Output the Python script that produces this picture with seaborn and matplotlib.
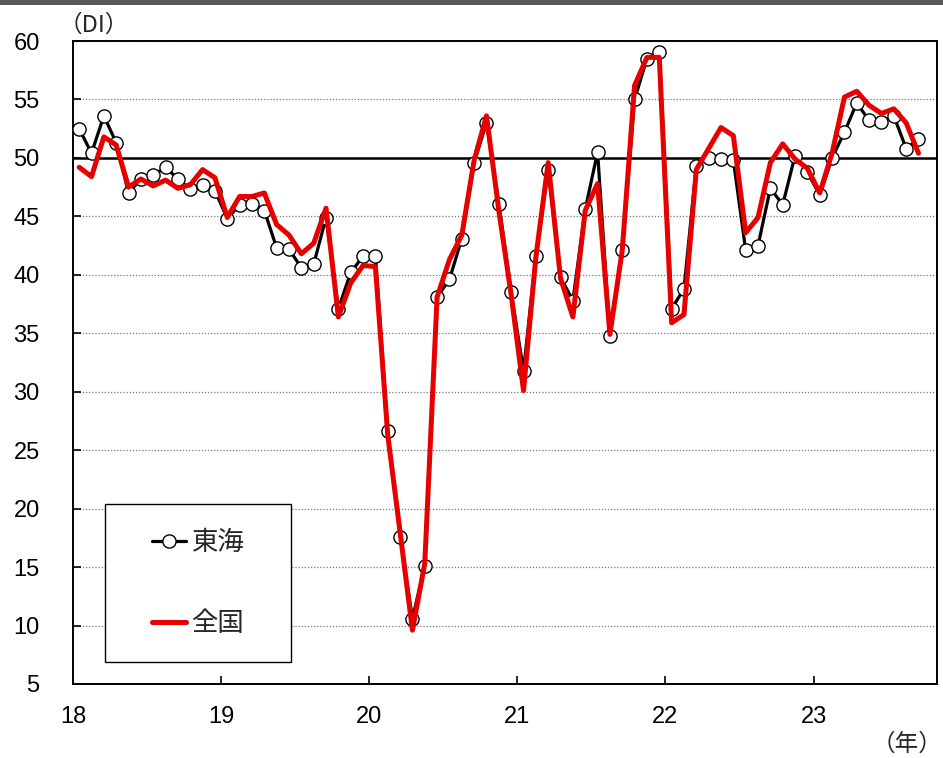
import matplotlib
matplotlib.use("Agg")
import matplotlib.pyplot as plt
from matplotlib.lines import Line2D
from matplotlib.patches import Rectangle
import numpy as np
import pandas as pd
import seaborn as sns

# Monthly business-conditions DI, Jan 2018 - Sep 2023
tokai = [52.5, 50.4, 53.6, 51.3, 47.0, 48.2, 48.5, 49.2, 48.2, 47.3, 47.7, 47.2,
         44.8, 46.0, 46.1, 45.5, 42.3, 42.2, 40.6, 40.9, 44.9, 37.1, 40.2, 41.6,
         41.6, 26.6, 17.6, 10.6, 15.1, 38.1, 39.6, 43.1, 49.6, 53.0, 46.1, 38.5,
         31.8, 41.6, 49.0, 39.8, 37.8, 45.6, 50.5, 34.8, 42.1, 55.0, 58.5, 59.1,
         37.1, 38.8, 49.3, 50.0, 49.9, 49.8, 42.1, 42.5, 47.4, 46.0, 50.2, 48.8,
         46.8, 50.0, 52.2, 54.7, 53.2, 53.1, 53.6, 50.8, 51.6]
national = [49.2, 48.4, 51.8, 51.1, 47.5, 48.2, 47.6, 48.1, 47.4, 47.7, 49.0, 48.3,
            44.9, 46.7, 46.7, 47.0, 44.3, 43.4, 41.8, 42.7, 45.7, 36.4, 39.3, 40.8,
            40.7, 26.3, 18.0, 9.6, 15.3, 38.1, 41.3, 43.4, 49.8, 53.6, 45.5, 38.3,
            30.1, 41.5, 49.6, 39.7, 36.4, 45.5, 47.8, 34.9, 42.1, 56.2, 58.6, 58.6,
            35.9, 36.6, 49.0, 50.8, 52.6, 51.9, 43.6, 44.9, 49.6, 51.2, 49.9, 49.1,
            47.0, 50.4, 55.2, 55.7, 54.5, 53.8, 54.2, 53.0, 50.4]
year_labels = ["18", "19", "20", "21", "22", "23"]
series_names = ["東海", "全国"]

months = np.arange(len(tokai)) + 0.5
df = pd.DataFrame({"month": months, "東海": tokai, "全国": national})

sns.set_style("white")
plt.rcParams["font.family"] = ["Liberation Sans", "Noto Sans CJK JP", "DejaVu Sans"]

fig = plt.figure(figsize=(9.43, 7.58), dpi=100)
ax = fig.add_axes([73 / 943, 1 - 684 / 758, 864 / 943, 643 / 758])

# dark header strip
fig.patches.append(Rectangle((0, 1 - 5 / 758), 1, 5 / 758, transform=fig.transFigure,
                             facecolor="#595959", edgecolor="none", zorder=0))

sns.lineplot(data=df, x="month", y="東海", ax=ax, color="black", linewidth=2.3,
             marker="o", markersize=9.5, markerfacecolor="white",
             markeredgecolor="black", markeredgewidth=1.0, zorder=3, clip_on=False)
sns.lineplot(data=df, x="month", y="全国", ax=ax, color="#E60000", linewidth=3.6,
             zorder=4)

ax.set_xlim(0, 70)
ax.set_ylim(5, 60)
ax.set_yticks(np.arange(5, 61, 5))
ax.set_xticks(np.arange(0, 61, 12))
ax.set_xticklabels(year_labels)
ax.set_xlabel("")
ax.set_ylabel("")

ax.yaxis.grid(True, color="#777777", linestyle=(0, (1, 1.5)), linewidth=0.9)
ax.xaxis.grid(False)
ax.axhline(50, color="black", linewidth=1.8, zorder=2)

for s in ax.spines.values():
    s.set_color("black")
    s.set_linewidth(1.4)

ax.tick_params(axis="both", direction="in", length=6, width=1.2, colors="black",
               labelsize=17)
ax.tick_params(axis="y", pad=24, left=True, right=False)
ax.tick_params(axis="x", pad=16, bottom=True, top=False)

# legend in a framed box
box_x0 = (105 - 73) / 864
box_y0 = (684 - 662) / 643
box_w = (291 - 105) / 864
box_h = (662 - 504) / 643
ax.add_patch(Rectangle((box_x0, box_y0), box_w, box_h, transform=ax.transAxes,
                       facecolor="white", edgecolor="black", linewidth=1.0, zorder=5))
handles = [
    Line2D([0], [0], color="black", linewidth=2.3, marker="o", markersize=9.5,
           markerfacecolor="white", markeredgecolor="black", markeredgewidth=1.0),
    Line2D([0], [0], color="#E60000", linewidth=3.6),
]
leg = ax.legend(handles, series_names, loc="center", frameon=False,
                bbox_to_anchor=(box_x0 + box_w / 2, box_y0 + box_h / 2),
                bbox_transform=ax.transAxes, fontsize=19, handlelength=1.3,
                handletextpad=0.2, labelspacing=2.05, numpoints=1)
leg.set_zorder(6)
for t in leg.get_texts():
    t.set_family(["Noto Sans CJK JP"])

fig.text(59 / 943, 1 - 25 / 758, "（DI）", fontsize=17, ha="left", va="center",
         family=["Noto Sans CJK JP"])
fig.text(942 / 943, 1 - 744 / 758, "（年）", fontsize=17, ha="right", va="center",
         family=["Noto Sans CJK JP"])

fig.savefig("out.png", dpi=100)
